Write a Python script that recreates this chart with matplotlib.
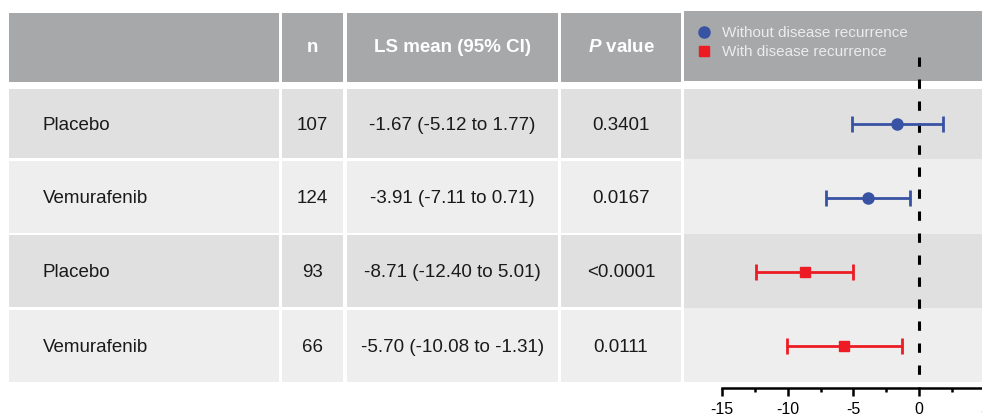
import numpy as np
import matplotlib.pyplot as plt
from matplotlib.patches import Rectangle
from matplotlib.lines import Line2D

plt.rcParams['font.family'] = ['Liberation Sans', 'DejaVu Sans']
plt.rcParams['mathtext.fontset'] = 'custom'
plt.rcParams['mathtext.bfit'] = 'Liberation Sans:italic:bold'
plt.rcParams['mathtext.rm'] = 'Liberation Sans:bold'
plt.rcParams['axes.unicode_minus'] = False

# Table and forest data
groups = ['Placebo', 'Vemurafenib', 'Placebo', 'Vemurafenib']
n_pts = [107, 124, 93, 66]
ci_text = ['-1.67 (-5.12 to 1.77)', '-3.91 (-7.11 to 0.71)',
           '-8.71 (-12.40 to 5.01)', '-5.70 (-10.08 to -1.31)']
p_text = ['0.3401', '0.0167', '<0.0001', '0.0111']
ls_mean = [-1.67, -3.91, -8.71, -5.70]
ci_low = [-5.12, -7.11, -12.40, -10.08]
ci_high = [1.77, -0.71, -5.01, -1.31]
recurrence = [False, False, True, True]

BLUE = '#3953a4'
RED = '#ed1c24'
HEAD = '#a6a8a9'
DARK = '#e0e0e0'
LIGHT = '#edeeed'

W, H = 982, 418
fig = plt.figure(figsize=(W / 100, H / 100), dpi=100)

# background layer in pixel units
bg = fig.add_axes([0, 0, 1, 1])
bg.set_xlim(0, W)
bg.set_ylim(H, 0)
bg.axis('off')

cols = [(9, 279), (281.7, 343.3), (346.7, 558), (561, 681)]
rows = [(89.3, 158.3), (160.7, 232.7), (235, 307.3), (309.7, 382.3)]
head = (12.5, 81.5)

for x0, x1 in cols:
    bg.add_patch(Rectangle((x0, head[0]), x1 - x0, head[1] - head[0], color=HEAD, lw=0))
    for i, (y0, y1) in enumerate(rows):
        bg.add_patch(Rectangle((x0, y0), x1 - x0, y1 - y0,
                               color=DARK if i % 2 == 0 else LIGHT, lw=0))

# forest panel background
bg.add_patch(Rectangle((684, 11), W - 684, 70, color=HEAD, lw=0))
bands = [89, 159.3, 233.7, 307.7, 382]
for i in range(4):
    bg.add_patch(Rectangle((684, bands[i]), W - 684, bands[i + 1] - bands[i],
                           color=DARK if i % 2 == 0 else LIGHT, lw=0))

# header text
hy = 48
hkw = dict(color='white', fontsize=13.5, fontweight='bold', ha='center', va='center')
bg.text(312.5, hy, 'n', **hkw)
bg.text(452.3, hy, 'LS mean (95% CI)', **hkw)
bg.text(621, hy, r'$\bfit{P}$ value', **hkw)

# body text
bkw = dict(color='#1a1a1a', fontsize=13.5, va='center')
for i, (y0, y1) in enumerate(rows):
    yc = (y0 + y1) / 2 + 1.5
    bg.text(42.5, yc, groups[i], ha='left', **bkw)
    bg.text(312.5, yc, str(n_pts[i]), ha='center', **bkw)
    bg.text(452.3, yc, ci_text[i], ha='center', **bkw)
    bg.text(621, yc, p_text[i], ha='center', **bkw)

# forest axes: 13.173 px per unit, zero at x=919.3, rows every 74 px from y=123.5
px_unit, x_zero = 13.173, 919.3
row_pitch, row0 = 74.0, 123.5
ax_l, ax_r, ax_t, ax_b = 684, 995, 11, 388
ax = fig.add_axes([ax_l / W, 1 - ax_b / H, (ax_r - ax_l) / W, (ax_b - ax_t) / H])
ax.patch.set_alpha(0)
ax.set_xlim((ax_l - x_zero) / px_unit, (ax_r - x_zero) / px_unit)
ax.set_ylim((ax_b - row0) / row_pitch, (ax_t - row0) / row_pitch)

ypos = np.arange(len(ls_mean))
for i in range(len(ls_mean)):
    c = RED if recurrence[i] else BLUE
    m = 's' if recurrence[i] else 'o'
    ax.errorbar(ls_mean[i], ypos[i],
                xerr=[[ls_mean[i] - ci_low[i]], [ci_high[i] - ls_mean[i]]],
                fmt=m, color=c, ms=8 if m == 'o' else 7.5, elinewidth=2,
                capsize=5.8, capthick=2, zorder=3)

# reference line at zero
ax.plot([0, 0], [(57 - row0) / row_pitch, (ax_b - row0) / row_pitch],
        color='black', lw=2.2, dashes=(3.05, 4.15), clip_on=False, zorder=2)

for s in ['top', 'left', 'right']:
    ax.spines[s].set_visible(False)
ax.spines['bottom'].set_linewidth(1.8)
ax.spines['bottom'].set_bounds(-15, 5)
ax.set_yticks([])
ax.set_xticks([-15, -10, -5, 0, 5])
ax.set_xticks([-12.5, -7.5, -2.5, 2.5], minor=True)
ax.tick_params(axis='x', which='major', length=6, width=1.8, labelsize=11.5, pad=4)
ax.tick_params(axis='x', which='minor', length=3, width=1.8)

handles = [Line2D([], [], marker='o', color=BLUE, ls='none', ms=8),
           Line2D([], [], marker='s', color=RED, ls='none', ms=7.5)]
fig.legend(handles, ['Without disease recurrence', 'With disease recurrence'],
           loc='upper left', bbox_to_anchor=(696.4 / W, 1 - 26 / H),
           frameon=False, borderpad=0, borderaxespad=0, handlelength=1.0,
           handletextpad=0.67, labelspacing=0.34, fontsize=11, labelcolor='#ececec')

fig.savefig('out.png', dpi=100)
